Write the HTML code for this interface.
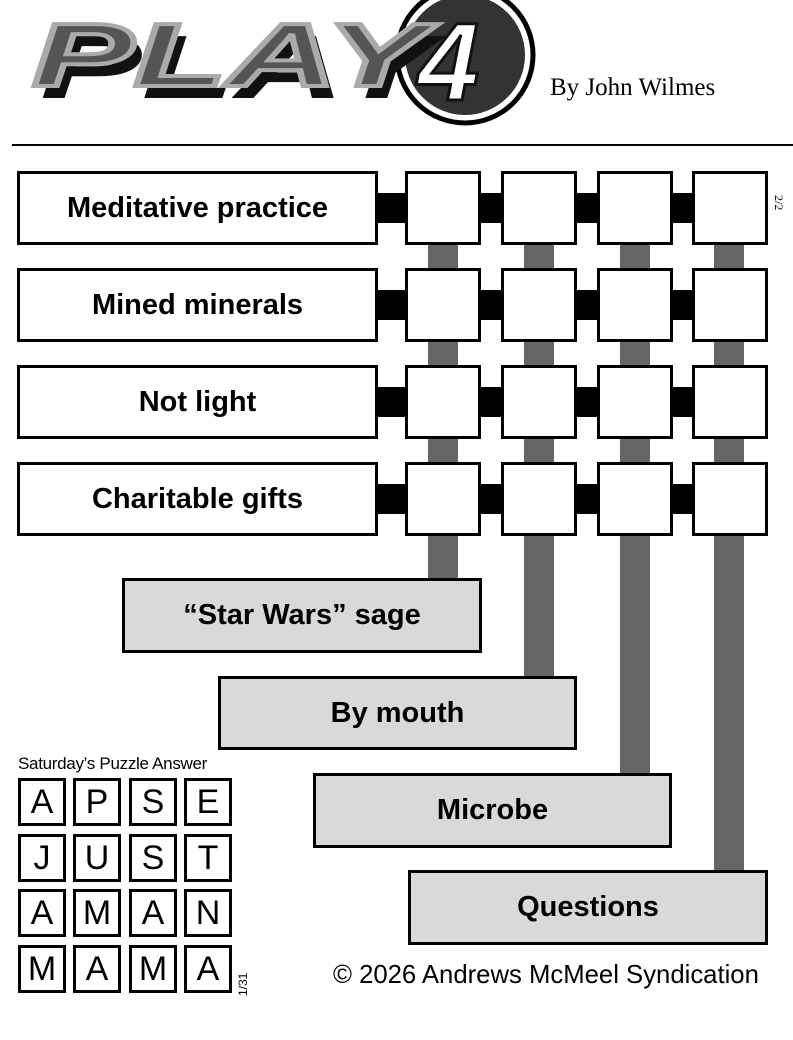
<!DOCTYPE html>
<html><head><style>
body{margin:0;background:#fff;width:793px;height:1040px;position:relative;overflow:hidden;font-family:"Liberation Sans",sans-serif}
.a{position:absolute;box-sizing:border-box}
.clue{border:3px solid #000;background:#fff;font-weight:bold;font-size:29px;display:flex;align-items:center;justify-content:center}
.g{background:#d9d9d9}
.sq{border:3px solid #000;background:#fff}
.bk{background:#000}
.gb{background:#666}
.ans{border:3px solid #000;background:#fff;font-size:34px;display:flex;align-items:center;justify-content:center;width:48px;height:48px}
</style></head><body>
<svg class="a" style="left:0;top:0" width="560" height="130">
<circle cx="465" cy="55" r="68" fill="#fff" stroke="#000" stroke-width="5"/>
<circle cx="465" cy="55" r="60" fill="#333"/>
<text x="40" y="98" font-family="Liberation Sans" font-weight="bold" font-style="italic" font-size="90" fill="#111" textLength="395" lengthAdjust="spacingAndGlyphs">PLAY</text>
<text x="32" y="86" font-family="Liberation Sans" font-weight="bold" font-style="italic" font-size="90" fill="#555" stroke="#aaa" stroke-width="4" textLength="395" lengthAdjust="spacingAndGlyphs">PLAY</text>
<text x="418" y="100" font-family="Liberation Sans" font-weight="bold" font-style="italic" font-size="110" fill="#fff" stroke="#111" stroke-width="3">4</text>
</svg>
<div class="a" style="left:550px;top:74px;font-family:'Liberation Serif',serif;font-size:25px">By John Wilmes</div>
<div class="a bk" style="left:12px;top:144px;width:781px;height:2px"></div>

<div class="a gb" style="left:428px;top:240px;width:30px;height:340px"></div>
<div class="a gb" style="left:524px;top:240px;width:30px;height:438px"></div>
<div class="a gb" style="left:620px;top:240px;width:30px;height:535px"></div>
<div class="a gb" style="left:714px;top:240px;width:30px;height:632px"></div>

<div class="a bk" style="left:370px;top:193px;width:330px;height:30px"></div>
<div class="a bk" style="left:370px;top:290px;width:330px;height:30px"></div>
<div class="a bk" style="left:370px;top:387px;width:330px;height:30px"></div>
<div class="a bk" style="left:370px;top:484px;width:330px;height:30px"></div>

<div class="a clue" style="left:17px;top:171px;width:361px;height:74px">Meditative practice</div>
<div class="a clue" style="left:17px;top:268px;width:361px;height:74px">Mined minerals</div>
<div class="a clue" style="left:17px;top:365px;width:361px;height:74px">Not light</div>
<div class="a clue" style="left:17px;top:462px;width:361px;height:74px">Charitable gifts</div>

<div class="a sq" style="left:405px;top:171px;width:76px;height:74px"></div>
<div class="a sq" style="left:501px;top:171px;width:76px;height:74px"></div>
<div class="a sq" style="left:597px;top:171px;width:76px;height:74px"></div>
<div class="a sq" style="left:692px;top:171px;width:76px;height:74px"></div>
<div class="a sq" style="left:405px;top:268px;width:76px;height:74px"></div>
<div class="a sq" style="left:501px;top:268px;width:76px;height:74px"></div>
<div class="a sq" style="left:597px;top:268px;width:76px;height:74px"></div>
<div class="a sq" style="left:692px;top:268px;width:76px;height:74px"></div>
<div class="a sq" style="left:405px;top:365px;width:76px;height:74px"></div>
<div class="a sq" style="left:501px;top:365px;width:76px;height:74px"></div>
<div class="a sq" style="left:597px;top:365px;width:76px;height:74px"></div>
<div class="a sq" style="left:692px;top:365px;width:76px;height:74px"></div>
<div class="a sq" style="left:405px;top:462px;width:76px;height:74px"></div>
<div class="a sq" style="left:501px;top:462px;width:76px;height:74px"></div>
<div class="a sq" style="left:597px;top:462px;width:76px;height:74px"></div>
<div class="a sq" style="left:692px;top:462px;width:76px;height:74px"></div>
<div class="a" style="top:195px;left:786px;font-family:'Liberation Serif',serif;font-size:12px;transform:rotate(90deg);transform-origin:left top">2/2</div>

<div class="a clue g" style="left:122px;top:578px;width:360px;height:75px">“Star Wars” sage</div>
<div class="a clue g" style="left:218px;top:676px;width:359px;height:74px">By mouth</div>
<div class="a clue g" style="left:313px;top:773px;width:359px;height:75px">Microbe</div>
<div class="a clue g" style="left:408px;top:870px;width:360px;height:75px">Questions</div>

<div class="a" style="left:18px;top:754px;font-size:17px;letter-spacing:-0.3px">Saturday’s Puzzle Answer</div>
<div class="a ans" style="left:18px;top:778px">A</div><div class="a ans" style="left:73px;top:778px">P</div><div class="a ans" style="left:129px;top:778px">S</div><div class="a ans" style="left:184px;top:778px">E</div>
<div class="a ans" style="left:18px;top:834px">J</div><div class="a ans" style="left:73px;top:834px">U</div><div class="a ans" style="left:129px;top:834px">S</div><div class="a ans" style="left:184px;top:834px">T</div>
<div class="a ans" style="left:18px;top:889px">A</div><div class="a ans" style="left:73px;top:889px">M</div><div class="a ans" style="left:129px;top:889px">A</div><div class="a ans" style="left:184px;top:889px">N</div>
<div class="a ans" style="left:18px;top:945px">M</div><div class="a ans" style="left:73px;top:945px">A</div><div class="a ans" style="left:129px;top:945px">M</div><div class="a ans" style="left:184px;top:945px">A</div>
<div class="a" style="font-size:12px;transform:rotate(-90deg);transform-origin:left top;top:996px;left:236px">1/31</div>
<div class="a" style="left:333px;top:961px;font-size:25.7px">© 2026 Andrews McMeel Syndication</div>
</body></html>
